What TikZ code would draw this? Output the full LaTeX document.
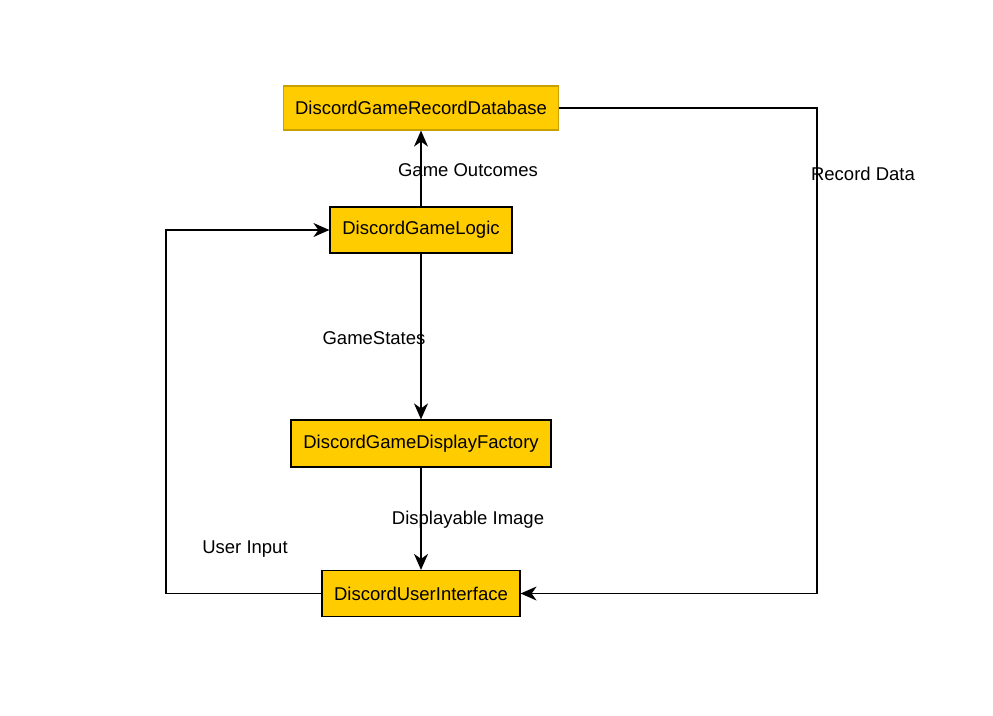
\documentclass[tikz,border=0pt]{standalone}
\usepackage{fontspec}
\setmainfont{Liberation Sans}
\usetikzlibrary{arrows.meta}
\definecolor{boxfill}{HTML}{FFCC00}
\definecolor{dbline}{HTML}{C8A000}
\tikzset{
  compbox/.style={draw=black, fill=boxfill, line width=1.2pt, inner sep=0pt},
  flow/.style={line width=1.2pt, -{Stealth[length=16pt,width=14pt,inset=5pt]}},
  flowlabel/.style={inner sep=0pt}
}
\begin{document}
\begin{tikzpicture}[x=1pt, y=-1pt, font=\fontsize{18.5}{22}\selectfont]
    \useasboundingbox (0,0) rectangle (993,715);

    % Components
    \node[compbox, draw=dbline, minimum width=275pt, minimum height=44pt] (db) at (421,108) {DiscordGameRecordDatabase};
    \node[compbox, minimum width=182pt, minimum height=46pt] (logic) at (421,230) {DiscordGameLogic};
    \node[compbox, minimum width=260pt, minimum height=47pt] (factory) at (421,443.5) {DiscordGameDisplayFactory};
    \node[compbox, minimum width=198pt, minimum height=46pt] (ui) at (421,593.5) {DiscordUserInterface};

    % Corners of the feedback loops
    \coordinate (userturn) at (166,593.5);
    \coordinate (recordturn) at (817,108);

    % Connectors
    \draw[flow] (logic) -- (db);
    \draw[flow] (logic) -- (factory);
    \draw[flow] (factory) -- (ui);
    \draw[flow] (ui.west) -- (userturn) |- (logic.west);
    \draw[flow] (db.east) -- (recordturn) |- (ui.east);

    % Connector labels
    \node[flowlabel] (outcomes) at (468,170) {Game Outcomes};
    \node[flowlabel] (states) at (374,338) {GameStates};
    \node[flowlabel] (image) at (468,520) {Displayable Image};
    \node[flowlabel] (input) at (245,549) {User Input};
    \node[flowlabel] (record) at (863,174) {Record Data};
\end{tikzpicture}
\end{document}
